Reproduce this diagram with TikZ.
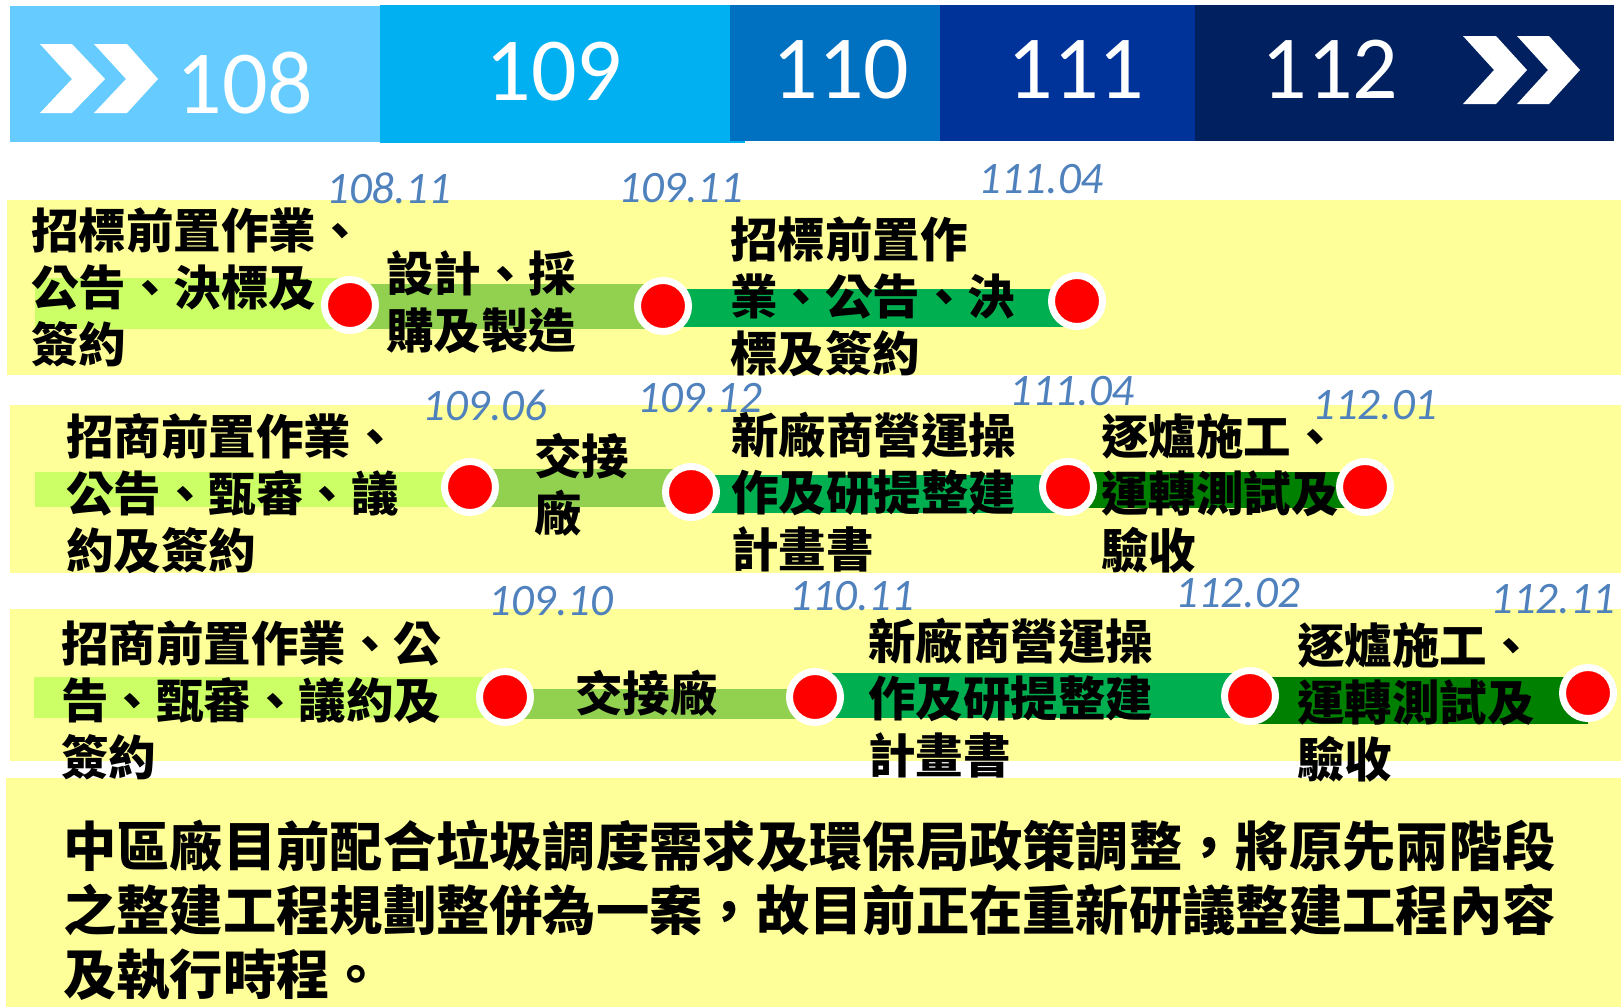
\documentclass[tikz,border=0pt]{standalone}
\usepackage{fontspec}
\newfontfamily\cjk{Noto Sans CJK TC}
\newfontfamily\calfont{Carlito}
\usetikzlibrary{calc}
\definecolor{bandY}{HTML}{FFFF99}
\definecolor{yA}{HTML}{66CCFF}
\definecolor{yB}{HTML}{00B0F0}
\definecolor{yC}{HTML}{0070C0}
\definecolor{yD}{HTML}{003399}
\definecolor{yE}{HTML}{002060}
\definecolor{gA}{HTML}{CCFF66}
\definecolor{gB}{HTML}{92D050}
\definecolor{gC}{HTML}{00B050}
\definecolor{gD}{HTML}{008000}
\definecolor{dateC}{HTML}{4F81BD}
\definecolor{dotR}{HTML}{FF0000}
\pgfdeclarelayer{bands}
\pgfdeclarelayer{bars}
\pgfsetlayers{bands,bars,main}
\tikzset{
  milestone/.style={circle, fill=dotR, draw=white, line width=7pt, minimum size=51pt, inner sep=0pt},
  lbl/.style={font=\cjk\bfseries\fontsize{47.5}{57}\selectfont, align=left, anchor=north west, inner sep=0pt},
  datelbl/.style={font=\calfont\itshape\fontsize{45}{45}\selectfont, text=dateC, anchor=base west, inner sep=0pt},
  yearlbl/.style={font=\calfont\fontsize{90}{90}\selectfont, text=white, anchor=base, inner sep=0pt},
  barline/.style={line cap=butt},
}
\begin{document}
\begin{tikzpicture}[x=1pt,y=-1pt]
\useasboundingbox (0,0) rectangle (1621,1007);
\begin{pgfonlayer}{bands}
  \fill[white] (0,0) rectangle (1621,1007);
  \fill[bandY] (7,200) rectangle (1621,375);
  \fill[bandY] (10,405) rectangle (1621,573);
  \fill[bandY] (10,609) rectangle (1621,761);
  \fill[bandY] (6,778) rectangle (1621,1007);
\end{pgfonlayer}

% header
\fill[yA] (10,6) rectangle (380,142);
\fill[yB] (380,5) rectangle (745,143);
\fill[yC] (730,5) rectangle (940,141);
\fill[yD] (940,5) rectangle (1195,141);
\fill[yE] (1195,5) rectangle (1614,141);
\fill[white] (40,44) -- (72,44) -- (105,79) -- (72,113) -- (40,113) -- (72,79) -- cycle;
\fill[white] (94,44) -- (127,44) -- (158,79) -- (127,113) -- (94,113) -- (126,79) -- cycle;
\fill[white] (1463,36) -- (1496,36) -- (1527,70) -- (1496,104) -- (1463,104) -- (1494,70) -- cycle;
\fill[white] (1517,36) -- (1549,36) -- (1580,70) -- (1549,104) -- (1517,104) -- (1548,70) -- cycle;
\node[yearlbl] (y108) at (245,113) {108};
\node[yearlbl] (y109) at (554,100) {109};
\node[yearlbl] (y110) at (841,98) {110};
\node[yearlbl] (y111) at (1076,98) {111};
\node[yearlbl] (y112) at (1330,98) {112};

% row 1 texts
\node[lbl] (t1a) at (31,208) {招標前置作業、\\公告、決標及\\簽約};
\node[lbl] (t1b) at (386,250) {設計、採\\購及製造};
\node[lbl] (t1c) at (730,217) {招標前置作\\業、公告、決\\標及簽約};
% row 2 texts
\node[lbl] (t2a) at (66,413) {招商前置作業、\\公告、甄審、議\\約及簽約};
\node[lbl] (t2b) at (534,433) {交接\\廠};
\node[lbl] (t2c) at (731,412) {新廠商營運操\\作及研提整建\\計畫書};
\node[lbl] (t2d) at (1101,413) {逐爐施工、\\運轉測試及\\驗收};
% row 3 texts
\node[lbl] (t3a) at (61,620) {招商前置作業、公\\告、甄審、議約及\\簽約};
\node[lbl] (t3b) at (575,670) {交接廠};
\node[lbl] (t3c) at (868,618) {新廠商營運操\\作及研提整建\\計畫書};
\node[lbl] (t3d) at (1297,622) {逐爐施工、\\運轉測試及\\驗收};

% bottom note
\node[lbl, font=\cjk\bfseries\fontsize{53.3}{64}\selectfont] (note) at (63,820)
  {中區廠目前配合垃圾調度需求及環保局政策調整，將原先兩階段\\之整建工程規劃整併為一案，故目前正在重新研議整建工程內容\\及執行時程。};

% milestones
\node[milestone] (r1a) at (350,305) {};
\node[milestone] (r1b) at (663,306) {};
\node[milestone] (r1c) at (1077,301) {};
\node[milestone] (r2a) at (470,487) {};
\node[milestone] (r2b) at (691,492) {};
\node[milestone] (r2c) at (1068,487) {};
\node[milestone] (r2d) at (1365,487) {};
\node[milestone] (r3a) at (505,697) {};
\node[milestone] (r3b) at (815,697) {};
\node[milestone] (r3c) at (1250,696) {};
\node[milestone] (r3d) at (1588,693) {};
\coordinate (s1) at (35,303.5);
\coordinate (s2) at (35,489.5);
\coordinate (s3) at (34,697.5);

\begin{pgfonlayer}{bars}
  \draw[barline, gA, line width=51pt] (s1) -- (s1 -| r1a);
  \draw[barline, gB, line width=45pt] (r1a |- 0,306.5) -- (r1b |- 0,306.5);
  \draw[barline, gC, line width=38pt] (r1b |- 0,308) -- (r1c |- 0,308);
  \draw[barline, gA, line width=35pt] (s2) -- (s2 -| r2a);
  \draw[barline, gB, line width=38pt] (r2a |- 0,488) -- (r2b |- 0,488);
  \draw[barline, gC, line width=38pt] (r2b |- 0,494) -- (r2c |- 0,494);
  \draw[barline, gD, line width=36pt] (r2c |- 0,490) -- (r2d |- 0,490);
  \draw[barline, gA, line width=41pt] (s3) -- (s3 -| r3a);
  \draw[barline, gB, line width=30pt] (r3a |- 0,704) -- (r3b |- 0,704);
  \draw[barline, gC, line width=45pt] (r3b |- 0,695.5) -- (r3c |- 0,695.5);
  \draw[barline, gD, line width=47pt] (r3c |- 0,700.5) -- (r3d |- 0,700.5);
\end{pgfonlayer}

% dates
\node[datelbl] (d1a) at (326,203) {108.11};
\node[datelbl] (d1b) at (618,202) {109.11};
\node[datelbl] (d1c) at (978,193) {111.04};
\node[datelbl] (d2a) at (422,420) {109.06};
\node[datelbl] (d2b) at (637,412) {109.12};
\node[datelbl] (d2c) at (1009,405) {111.04};
\node[datelbl] (d2d) at (1312,419) {112.01};
\node[datelbl] (d3a) at (488,615) {109.10};
\node[datelbl] (d3b) at (789,610) {110.11};
\node[datelbl] (d3c) at (1175,607) {112.02};
\node[datelbl] (d3d) at (1490,613) {112.11};
\end{tikzpicture}
\end{document}
